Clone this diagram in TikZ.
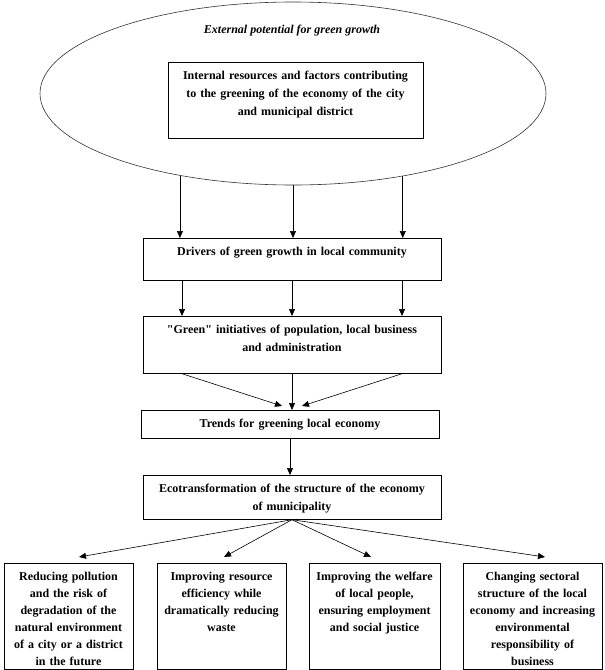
\documentclass[tikz,border=0pt]{standalone}
\usepackage{fontspec}
\setmainfont{Liberation Serif}
\usetikzlibrary{arrows.meta,shapes.geometric}

\begin{document}
\begin{tikzpicture}[
  x=1pt,y=-1pt,
  every node/.style={font=\fontsize{12}{18}\selectfont\bfseries,text=black},
  box/.style={draw,line width=.7pt,align=center,inner xsep=0pt,inner ysep=0pt,text height=17pt,anchor=north},
  lowbox/.style={box,font=\fontsize{12}{17}\selectfont\bfseries,text depth=89pt},
  outer/.style={ellipse,draw,line width=.6pt,black!80,inner sep=0pt},
  arrow/.style={-{Triangle[length=7pt,width=6pt]},line width=.6pt,black}
]
\useasboundingbox (0,0) rectangle (605,670);
\fill[white] (0,0) rectangle (605,670);

% Outer potential with the internal resources inside it.
\node[outer,minimum width=506pt,minimum height=183pt] (ell) at (293,93.5) {};
\node[font=\fontsize{12}{18}\selectfont\bfseries\itshape] (ext) at (292,31) {External potential for green growth};
\node[box,text width=255pt,text depth=59pt] (res) at (295.5,62)
  {Internal resources and factors contributing\\to the greening of the economy of the city\\and municipal district};

% Main chain of boxes.
\node[box,text width=298pt,text depth=25pt] (drv) at (292,238) {Drivers of green growth in local community};
\node[box,text width=298pt,text depth=40pt] (grn) at (292,316)
  {\textquotedbl Green\textquotedbl{} initiatives of population, local business\\and administration};
\node[box,text width=298pt,text depth=11pt] (trd) at (290,410) {Trends for greening local economy};
\node[box,text width=298pt,text depth=27pt] (eco) at (292,475)
  {Ecotransformation of the structure of the economy\\of municipality};

% Four outcomes.
\node[lowbox,text width=129pt] (b1) at (68.5,563)
  {Reducing pollution\\and the risk of\\degradation of the\\natural environment\\of a city or a district\\in the future};
\node[lowbox,text width=129pt] (b2) at (221.5,563)
  {Improving resource\\efficiency while\\dramatically reducing\\waste};
\node[lowbox,text width=131pt] (b3) at (374.5,563)
  {Improving the welfare\\of local people,\\ensuring employment\\and social justice};
\node[lowbox,text width=139pt] (b4) at (532.5,563)
  {Changing sectoral\\structure of the local\\economy and increasing\\environmental\\responsibility of\\business};

% Connectors.
\foreach \a in {216.8,270,323.2}
  \draw[arrow] (ell.\a) -- (ell.\a |- drv.north);
\foreach \s in {-110,0,110}
  \draw[arrow] ([xshift=\s pt]drv.south) -- ([xshift=\s pt]drv.south |- grn.north);
\draw[arrow] ([xshift=-110pt]grn.south) -- ([xshift=-10pt,yshift=4pt]grn.south |- trd.north);
\draw[arrow] (grn.south) -- (grn.south |- trd.north);
\draw[arrow] ([xshift=110pt]grn.south) -- ([xshift=10pt,yshift=4pt]grn.south |- trd.north);
\draw[arrow] (trd.south) -- (trd.south |- eco.north);
\foreach \b/\s in {b1/10.5,b2/2.5,b3/-3.5,b4/12.5}
  \draw[arrow] (eco.south) -- ([xshift=\s pt,yshift=6pt]\b.north);
\end{tikzpicture}
\end{document}
